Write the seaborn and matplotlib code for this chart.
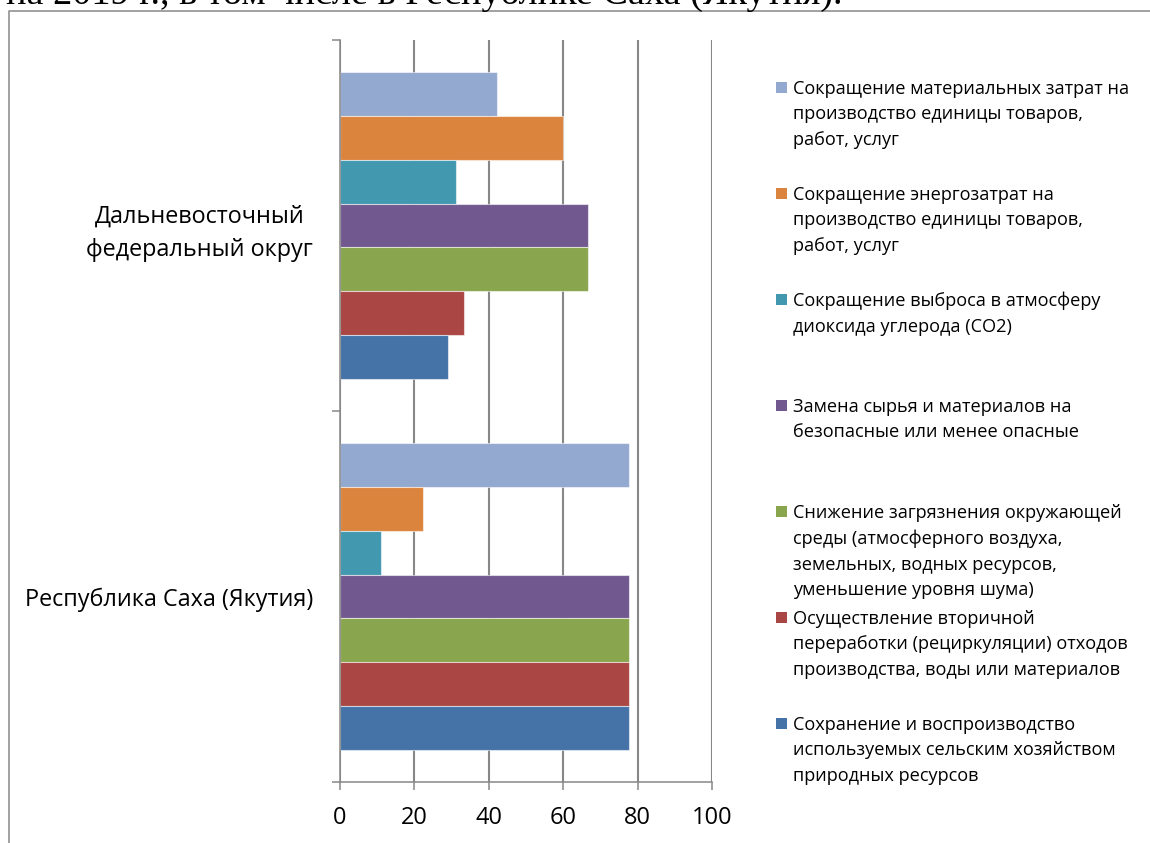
import matplotlib
matplotlib.use("Agg")
import matplotlib.pyplot as plt
from matplotlib.patches import Rectangle
from matplotlib.lines import Line2D
import pandas as pd
import seaborn as sns

# ---- data -------------------------------------------------------------
regions = ["Дальневосточный\nфедеральный округ", "Республика Саха (Якутия)"]
measures = [
    "Сокращение материальных затрат на\nпроизводство единицы товаров,\nработ, услуг",
    "Сокращение энергозатрат на\nпроизводство единицы товаров,\nработ, услуг",
    "Сокращение выброса в атмосферу\nдиоксида углерода (СО2)",
    "Замена сырья и материалов на\nбезопасные или менее опасные",
    "Снижение загрязнения окружающей\nсреды (атмосферного воздуха,\nземельных, водных ресурсов,\nуменьшение уровня шума)",
    "Осуществление вторичной\nпереработки (рециркуляции) отходов\nпроизводства, воды или материалов",
    "Сохранение и воспроизводство\nиспользуемых сельским хозяйством\nприродных ресурсов",
]
far_east_values = [42.2, 60.0, 31.1, 66.7, 66.7, 33.3, 28.9]
yakutia_values = [77.8, 22.2, 11.1, 77.8, 77.8, 77.8, 77.8]
series_colors = ["#93A9CF", "#DB843D", "#4198AF", "#71588F",
                 "#89A54E", "#AA4643", "#4572A7"]
x_ticks = [0, 20, 40, 60, 80, 100]
heading = "на 2019 г., в том числе в Республике Саха (Якутия)."

# ---- styling ------------------------------------------------------------
W, H = 1150, 843
GRAY = "#878787"
sns.set_style("white")
plt.rcParams["font.family"] = ["Open Sans", "DejaVu Sans"]
plt.rcParams["text.color"] = "black"

df = pd.DataFrame({
    "region": [r for r in regions for _ in measures],
    "measure": measures * 2,
    "value": far_east_values + yakutia_values,
})

fig = plt.figure(figsize=(W / 100, H / 100), dpi=100)
fig.patch.set_facecolor("white")

def fx(px):
    return px / W

def fy(py):
    return 1 - py / H

ax = fig.add_axes([fx(340), fy(782), (712 - 340) / W, (782 - 40) / H])

sns.barplot(
    data=df, x="value", y="region", hue="measure",
    order=regions, hue_order=measures, palette=series_colors,
    saturation=1, width=0.825, orient="h",
    edgecolor=(1, 1, 1, 0.55), linewidth=0.8,
    legend=False, ax=ax,
)

# value axis
ax.set_xlim(0, 100)
ax.set_xticks(x_ticks)
ax.set_xlabel("")
ax.set_ylabel("")
ax.grid(axis="x", color=GRAY, linewidth=1.5)
ax.grid(axis="y", visible=False)
ax.set_axisbelow(True)
ax.tick_params(axis="x", bottom=True, length=6, width=1.1, color=GRAY,
               direction="out", pad=11, labelsize=17, labelcolor="black")

# category axis: ticks on group boundaries, labels on group centres
ax.set_ylim(1.5, -0.5)
ax.set_yticks([-0.5, 0.5, 1.5])
ax.set_yticklabels([])
ax.set_yticks([0, 1], labels=regions, minor=True)
for lbl in ax.get_yticklabels(minor=True):
    lbl.set_multialignment("center")
    lbl.set_linespacing(1.55)
ax.tick_params(axis="y", which="major", left=True, length=6, width=1.1,
               color=GRAY, direction="out")
ax.tick_params(axis="y", which="minor", left=True, length=0, pad=19.5,
               labelleft=True, labelsize=16.8, labelcolor="black")

for side in ("top", "right"):
    ax.spines[side].set_visible(False)
for side in ("left", "bottom"):
    ax.spines[side].set_color(GRAY)
    ax.spines[side].set_linewidth(1.1)

# legend, one entry per slot, top-aligned
entry_top = 80
entry_pitch = 106
for i, (label, color) in enumerate(zip(measures, series_colors)):
    top = entry_top + i * entry_pitch
    fig.patches.append(Rectangle((fx(776), fy(top + 13)), 11 / W, 11 / H,
                                 transform=fig.transFigure,
                                 facecolor=color, edgecolor="none"))
    fig.text(fx(793), fy(top), label, ha="left", va="top",
             fontsize=13.1, linespacing=1.53, color="black")

# surrounding frame and the line of document text above it
fig.add_artist(Line2D([fx(9), fx(9), 1.0], [0.0, fy(11), fy(11)],
                      transform=fig.transFigure, color=GRAY, linewidth=1.1))
fig.text(fx(842), fy(4), heading, ha="right", va="baseline",
         fontsize=27.5, family=["Liberation Serif", "DejaVu Serif"],
         color="black")

fig.savefig("out.png", dpi=100, facecolor="white")
